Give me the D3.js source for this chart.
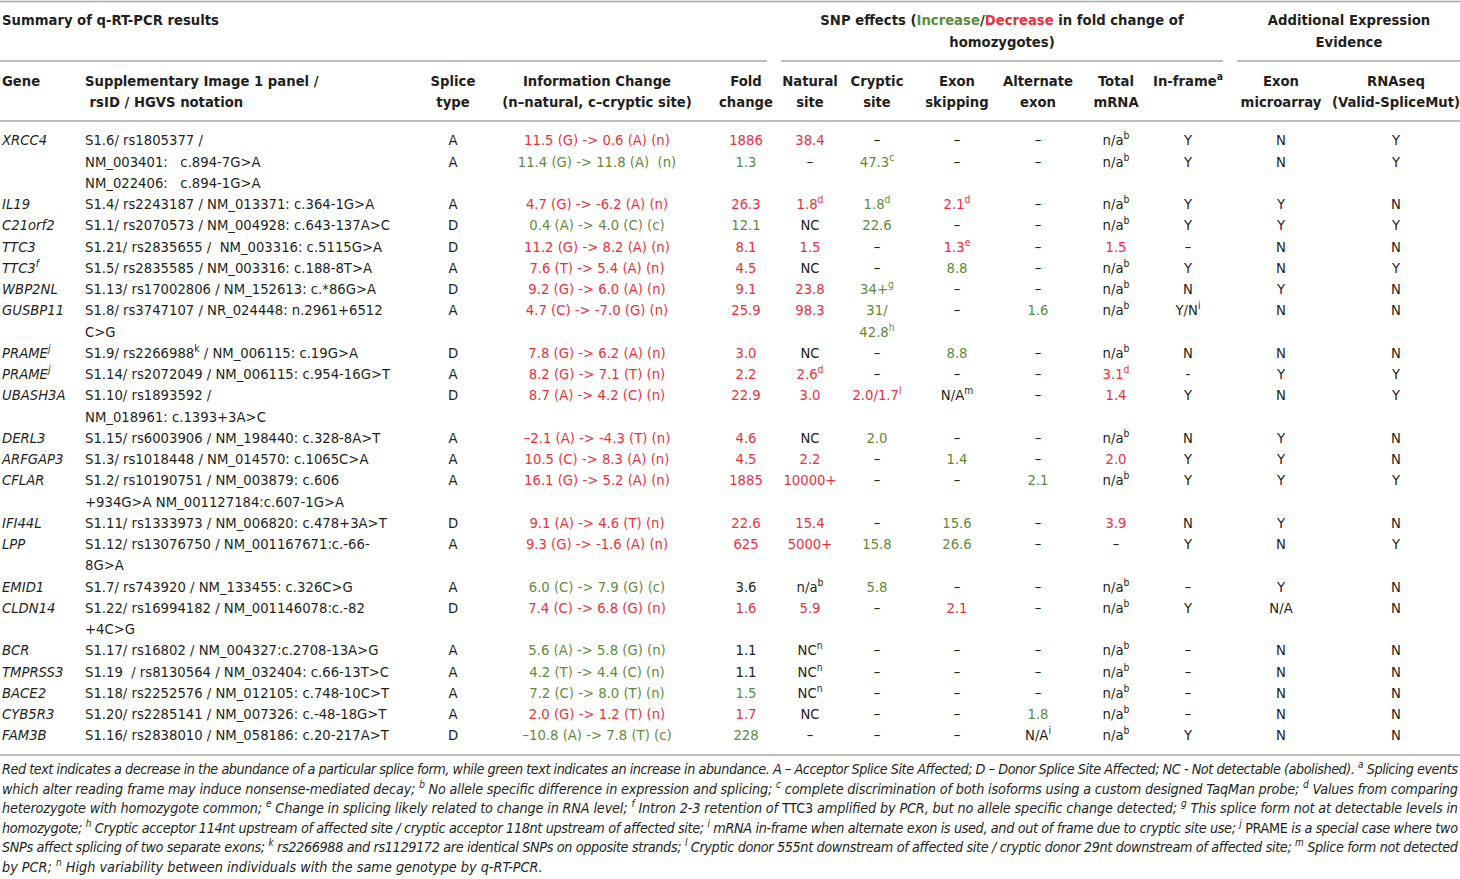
<!DOCTYPE html>
<html>
<head>
<meta charset="utf-8">
<title>Summary of q-RT-PCR results</title>
<script src="https://cdn.jsdelivr.net/npm/d3@7"></script>
<style>
  body { margin: 0; background: #fff; }
  text { font-family: "Liberation Sans Narrow", "DejaVu Sans Condensed", "Arial Narrow", sans-serif; }
</style>
</head>
<body>
<svg width="1460" height="879" id="mainsvg"></svg>
<script>
// ---- data (one entry per table record) ----
const genes = ['XRCC4', '', 'IL19', 'C21orf2', 'TTC3', 'TTC3^f', 'WBP2NL', 'GUSBP11', 'PRAME^j', 'PRAME^j',
  'UBASH3A', 'DERL3', 'ARFGAP3', 'CFLAR', 'IFI44L', 'LPP', 'EMID1', 'CLDN14', 'BCR', 'TMPRSS3', 'BACE2', 'CYB5R3', 'FAM3B'];
const panels = [
  ['S1.6/ rs1805377 /'],
  ['NM_003401:   c.894-7G>A', 'NM_022406:   c.894-1G>A'],
  ['S1.4/ rs2243187 / NM_013371: c.364-1G>A'],
  ['S1.1/ rs2070573 / NM_004928: c.643-137A>C'],
  ['S1.21/ rs2835655 /  NM_003316: c.5115G>A'],
  ['S1.5/ rs2835585 / NM_003316: c.188-8T>A'],
  ['S1.13/ rs17002806 / NM_152613: c.*86G>A'],
  ['S1.8/ rs3747107 / NR_024448: n.2961+6512', 'C>G'],
  ['S1.9/ rs2266988^k / NM_006115: c.19G>A'],
  ['S1.14/ rs2072049 / NM_006115: c.954-16G>T'],
  ['S1.10/ rs1893592 /', 'NM_018961: c.1393+3A>C'],
  ['S1.15/ rs6003906 / NM_198440: c.328-8A>T'],
  ['S1.3/ rs1018448 / NM_014570: c.1065C>A'],
  ['S1.2/ rs10190751 / NM_003879: c.606', '+934G>A NM_001127184:c.607-1G>A'],
  ['S1.11/ rs1333973 / NM_006820: c.478+3A>T'],
  ['S1.12/ rs13076750 / NM_001167671:c.-66-', '8G>A'],
  ['S1.7/ rs743920 / NM_133455: c.326C>G'],
  ['S1.22/ rs16994182 / NM_001146078:c.-82', '+4C>G'],
  ['S1.17/ rs16802 / NM_004327:c.2708-13A>G'],
  ['S1.19  / rs8130564 / NM_032404: c.66-13T>C'],
  ['S1.18/ rs2252576 / NM_012105: c.748-10C>T'],
  ['S1.20/ rs2285141 / NM_007326: c.-48-18G>T'],
  ['S1.16/ rs2838010 / NM_058186: c.20-217A>T']
];
const spliceTypes = ['A', 'A', 'A', 'D', 'D', 'A', 'D', 'A', 'D', 'A', 'D', 'A', 'A', 'A', 'D', 'A', 'A', 'D', 'A', 'A', 'A', 'A', 'D'];
const infoChanges = ['11.5 (G) -> 0.6 (A) (n)', '11.4 (G) -> 11.8 (A)  (n)', '4.7 (G) -> -6.2 (A) (n)', '0.4 (A) -> 4.0 (C) (c)',
  '11.2 (G) -> 8.2 (A) (n)', '7.6 (T) -> 5.4 (A) (n)', '9.2 (G) -> 6.0 (A) (n)', '4.7 (C) -> -7.0 (G) (n)',
  '7.8 (G) -> 6.2 (A) (n)', '8.2 (G) -> 7.1 (T) (n)', '8.7 (A) -> 4.2 (C) (n)', '–2.1 (A) -> -4.3 (T) (n)',
  '10.5 (C) -> 8.3 (A) (n)', '16.1 (G) -> 5.2 (A) (n)', '9.1 (A) -> 4.6 (T) (n)', '9.3 (G) -> -1.6 (A) (n)',
  '6.0 (C) -> 7.9 (G) (c)', '7.4 (C) -> 6.8 (G) (n)', '5.6 (A) -> 5.8 (G) (n)', '4.2 (T) -> 4.4 (C) (n)',
  '7.2 (C) -> 8.0 (T) (n)', '2.0 (G) -> 1.2 (T) (n)', '–10.8 (A) -> 7.8 (T) (c)'];
const foldChanges = ['1886', '1.3', '26.3', '12.1', '8.1', '4.5', '9.1', '25.9', '3.0', '2.2', '22.9', '4.6',
  '4.5', '1885', '22.6', '625', '3.6', '1.6', '1.1', '1.1', '1.5', '1.7', '228'];
const naturalSite = ['38.4', '–', '1.8^d', 'NC', '1.5', 'NC', '23.8', '98.3', 'NC', '2.6^d', '3.0', 'NC',
  '2.2', '10000+', '15.4', '5000+', 'n/a^b', '5.9', 'NC^n', 'NC^n', 'NC^n', 'NC', '–'];
const crypticSite = ['–', '47.3^c', '1.8^d', '22.6', '–', '–', '34+^g', ['31/', '42.8^h'], '–', '–', '2.0/1.7^l', '2.0',
  '–', '–', '–', '15.8', '5.8', '–', '–', '–', '–', '–', '–'];
const exonSkipping = ['–', '–', '2.1^d', '–', '1.3^e', '8.8', '–', '–', '8.8', '–', 'N/A^m', '–',
  '1.4', '–', '15.6', '26.6', '–', '2.1', '–', '–', '–', '–', '–'];
const alternateExon = ['–', '–', '–', '–', '–', '–', '–', '1.6', '–', '–', '–', '–',
  '–', '2.1', '–', '–', '–', '–', '–', '–', '–', '1.8', 'N/A^i'];
const totalMRNA = ['n/a^b', 'n/a^b', 'n/a^b', 'n/a^b', '1.5', 'n/a^b', 'n/a^b', 'n/a^b', 'n/a^b', '3.1^d', '1.4', 'n/a^b',
  '2.0', 'n/a^b', '3.9', '–', 'n/a^b', 'n/a^b', 'n/a^b', 'n/a^b', 'n/a^b', 'n/a^b', 'n/a^b'];
const inFrame = ['Y', 'Y', 'Y', 'Y', '–', 'Y', 'N', 'Y/N^i', 'N', '-', 'Y', 'N',
  'Y', 'Y', 'N', 'Y', '–', 'Y', '–', '–', '–', '–', 'Y'];
const exonMicroarray = ['N', 'N', 'Y', 'Y', 'N', 'N', 'Y', 'N', 'N', 'Y', 'N', 'Y',
  'Y', 'Y', 'Y', 'N', 'Y', 'N/A', 'N', 'N', 'N', 'N', 'N'];
const rnaSeq = ['Y', 'Y', 'N', 'Y', 'N', 'Y', 'N', 'N', 'N', 'Y', 'Y', 'N',
  'N', 'Y', 'N', 'Y', 'N', 'N', 'N', 'N', 'N', 'N', 'N'];
// direction of effect for [info, fold, natural, cryptic, skip, alt, total]: d = decrease, i = increase, . = none
const effects = ['ddd....', 'ii.i...', 'dddid..', 'ii.i...', 'ddd.d.d', 'dd..i..', 'dddi...', 'dddi.i.',
  'dd..i..', 'ddd...d', 'dddd..d', 'dd.i...', 'ddd.i.d', 'ddd..i.', 'ddd.i.d', 'dddii..',
  'i..i...', 'ddd.d..', 'i......', 'i......', 'ii.....', 'dd...i.', 'ii.....'];

const footnotes = [
  'Red text indicates a decrease in the abundance of a particular splice form, while green text indicates an increase in abundance. A – Acceptor Splice Site Affected; D – Donor Splice Site Affected; NC - Not detectable (abolished). ^a Splicing events',
  'which alter reading frame may induce nonsense-mediated decay; ^b No allele specific difference in expression and splicing; ^c complete discrimination of both isoforms using a custom designed TaqMan probe; ^d Values from comparing',
  'heterozygote with homozygote common; ^e Change in splicing likely related to change in RNA level; ^f Intron 2-3 retention of {TTC3} amplified by PCR, but no allele specific change detected; ^g This splice form not at detectable levels in',
  'homozygote; ^h Cryptic acceptor 114nt upstream of affected site / cryptic acceptor 118nt upstream of affected site; ^i mRNA in-frame when alternate exon is used, and out of frame due to cryptic site use; ^j {PRAME} is a special case where two',
  'SNPs affect splicing of two separate exons; ^k rs2266988 and rs1129172 are identical SNPs on opposite strands; ^l Cryptic donor 555nt downstream of affected site / cryptic donor 29nt downstream of affected site;  ^m Splice form not detected',
  'by PCR; ^n High variability between individuals with the same genotype by q-RT-PCR.'
];

// ---- layout ----
const svg = d3.select('#mainsvg');
const width = +svg.attr('width');
const ink = '#231f20';
const red = '#e8313c';
const green = '#5f8a3b';
const rule = '#a8a8a8';
const fs = 14.7;
const hfs = 14.7;

const color = d3.scaleOrdinal().domain(['d', 'i', '.']).range([red, green, ink]);

const columns = [
  { key: 'gene', values: genes, head: ['Gene'], x: 2, anchor: 'start', italic: true },
  { key: 'panel', values: panels, head: ['Supplementary Image 1 panel /', ' rsID / HGVS notation'], x: 85, anchor: 'start' },
  { key: 'splice', values: spliceTypes, head: ['Splice', 'type'], x: 453 },
  { key: 'info', values: infoChanges, head: ['Information Change', '(n–natural, c–cryptic site)'], x: 597, fx: 0 },
  { key: 'fold', values: foldChanges, head: ['Fold', 'change'], x: 746, fx: 1 },
  { key: 'natural', values: naturalSite, head: ['Natural', 'site'], x: 810, fx: 2 },
  { key: 'cryptic', values: crypticSite, head: ['Cryptic', 'site'], x: 877, fx: 3 },
  { key: 'skip', values: exonSkipping, head: ['Exon', 'skipping'], x: 957, fx: 4 },
  { key: 'alt', values: alternateExon, head: ['Alternate', 'exon'], x: 1038, fx: 5 },
  { key: 'total', values: totalMRNA, head: ['Total', 'mRNA'], x: 1116, fx: 6 },
  { key: 'inframe', values: inFrame, head: ['In-frame^a'], x: 1188 },
  { key: 'array', values: exonMicroarray, head: ['Exon', 'microarray'], x: 1281 },
  { key: 'rnaseq', values: rnaSeq, head: ['RNAseq', '(Valid-SpliceMut)'], x: 1396 }
];

// line bookkeeping: each record takes as many lines as its tallest cell
const asLines = v => Array.isArray(v) ? v : [v];
const lineCount = genes.map((g, i) => d3.max(columns, c => asLines(c.values[i]).length));
const lineStart = d3.cumsum([0].concat(lineCount)).slice(0, genes.length);
const totalLines = d3.sum(lineCount);
const y = d3.scaleLinear().domain([0, totalLines - 1]).range([140, 735]);

// rich text: ^x superscript, {word} upright, [i:word]/[d:word] coloured
function rich(sel, str) {
  const parts = str.split(/(\^[a-z]|\{[^}]+\}|\[[id]:[^\]]+\])/).filter(p => p !== '');
  let raised = false;
  parts.forEach(p => {
    const t = sel.append('tspan');
    if (p[0] === '^') {
      t.text(p.slice(1)).attr('font-size', '70%').attr('dy', -6);
      raised = true;
      return;
    }
    if (raised) { t.attr('dy', 6); raised = false; }
    if (p[0] === '{') {
      t.text(p.slice(1, -1)).attr('font-style', 'normal');
    } else if (p[0] === '[') {
      t.text(p.slice(3, -1)).attr('fill', color(p[1]));
    } else {
      t.text(p);
    }
  });
}

svg.append('rect').attr('width', width).attr('height', 879).attr('fill', '#fff');

// rules
const rules = [
  [0, width, 1.5], [0, 767, 61], [781, 1223, 61], [1237, width, 61], [0, width, 121], [0, width, 755]
];
svg.append('g').selectAll('line').data(rules).join('line')
  .attr('x1', d => d[0]).attr('x2', d => d[1])
  .attr('y1', d => d[2]).attr('y2', d => d[2])
  .attr('stroke', rule).attr('stroke-width', 1.5);

// group headers
const head = svg.append('g').attr('fill', ink).attr('font-size', hfs).attr('font-weight', 'bold');
const groups = [
  { x: 2, anchor: 'start', lines: ['Summary of q-RT-PCR results'] },
  { x: 1002, anchor: 'middle', lines: ['SNP effects ([i:Increase]/[d:Decrease] in fold change of', 'homozygotes)'] },
  { x: 1349, anchor: 'middle', lines: ['Additional Expression', 'Evidence'] }
];
groups.forEach(gr => gr.lines.forEach((l, k) => {
  rich(head.append('text').attr('x', gr.x).attr('y', 25 + k * 22).attr('text-anchor', gr.anchor), l);
}));

// column headers
columns.forEach(c => c.head.forEach((l, k) => {
  rich(head.append('text').attr('x', c.x).attr('y', 85.5 + k * 21)
    .attr('text-anchor', c.anchor || 'middle').attr('xml:space', 'preserve'), l);
}));

// body cells
const body = svg.append('g').attr('font-size', fs);
columns.forEach(c => {
  c.values.forEach((v, i) => {
    const fill = c.fx === undefined ? ink : color(effects[i][c.fx]);
    asLines(v).forEach((l, k) => {
      if (l === '') return;
      const t = body.append('text')
        .attr('x', c.x).attr('y', y(lineStart[i] + k) + 5.3)
        .attr('text-anchor', c.anchor || 'middle')
        .attr('xml:space', 'preserve')
        .attr('fill', fill)
        .attr('font-style', c.italic ? 'italic' : 'normal');
      rich(t, l);
    });
  });
});

// footnotes, justified except the last line
const foot = svg.append('g').attr('font-size', 14.3).attr('font-style', 'italic').attr('fill', ink);
footnotes.forEach((l, k) => {
  const t = foot.append('text').attr('x', 2).attr('y', 774 + k * 19.6);
  if (k < footnotes.length - 1) t.attr('textLength', width - 4).attr('lengthAdjust', 'spacing');
  rich(t, l);
});
</script>
</body>
</html>
